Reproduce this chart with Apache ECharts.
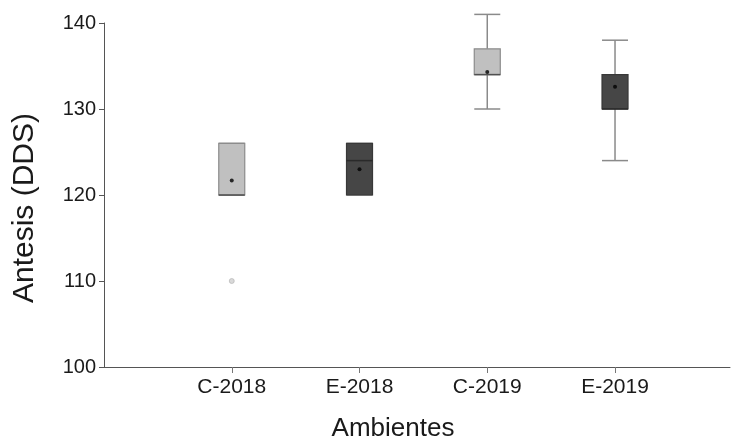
<!DOCTYPE html>
<html>
<head>
<meta charset="utf-8">
<script src="https://cdn.jsdelivr.net/npm/echarts@6/dist/echarts.min.js"></script>
<style>html,body{margin:0;padding:0;background:#fff}#main{width:731px;height:441px}</style>
</head>
<body>
<div id="main"></div>
<script>
const categories = ['C-2018', 'E-2018', 'C-2019', 'E-2019'];
const positions = [1, 2, 3, 4];
const mins = [120, 120, 130, 124];
const q1s = [120, 120, 134, 130];
const medians = [120, 124, 134, 130];
const q3s = [126, 126, 137, 134];
const maxs = [126, 126, 141, 138];
const means = [121.7, 123.0, 134.3, 132.6];
const outliers = [[1, 110]];
const yTicks = [100, 110, 120, 130, 140];

const boxData = positions.map((p, i) => [p, mins[i], q1s[i], medians[i], q3s[i], maxs[i], i]);
const meanData = positions.map((p, i) => [p, means[i]]);

const chart = echarts.init(document.getElementById('main'));
const fills = ['#c0c0c0', '#464646'];
const borders = ['#8c8c8c', '#383838'];
const medCols = ['#505050', '#2a2a2a'];

chart.setOption({
  animation: false,
  grid: { left: 104, right: 1, top: 23, bottom: 74, outerBoundsMode: 'none', containLabel: false },
  xAxis: {
    type: 'value', min: 0, max: 4.9,
    name: 'Ambientes', nameLocation: 'middle', nameGap: 49,
    nameTextStyle: { fontFamily: 'Liberation Sans', fontSize: 26, color: '#1a1a1a', padding: [0, 48, 0, 0] },
    splitLine: { show: false },
    axisLine: { show: true, lineStyle: { color: '#555', width: 1 } },
    axisTick: { show: true, customValues: positions, length: 6, lineStyle: { color: '#777' } },
    axisLabel: {
      customValues: positions, margin: 10,
      fontFamily: 'Liberation Sans', fontSize: 21, color: '#1a1a1a',
      formatter: v => categories[Math.round(v) - 1] || ''
    }
  },
  yAxis: {
    type: 'value', min: 100, max: 140, interval: 10,
    name: 'Antesis (DDS)', nameLocation: 'middle', nameGap: 64,
    nameTextStyle: { fontFamily: 'Liberation Sans', fontSize: 30, color: '#1a1a1a', padding: [0, 26, 0, 0] },
    splitLine: { show: false },
    axisLine: { show: true, lineStyle: { color: '#555', width: 1 } },
    axisTick: { show: true, length: 5, lineStyle: { color: '#555' } },
    axisLabel: {
      customValues: yTicks, margin: 8,
      fontFamily: 'Liberation Sans', fontSize: 20, color: '#1a1a1a'
    }
  },
  series: [
    {
      type: 'custom',
      data: boxData,
      renderItem: function (params, api) {
        const x = api.value(0);
        const idx = api.value(6);
        const w = 26;
        const pMin = api.coord([x, api.value(1)]);
        const pQ1 = api.coord([x, api.value(2)]);
        const pMed = api.coord([x, api.value(3)]);
        const pQ3 = api.coord([x, api.value(4)]);
        const pMax = api.coord([x, api.value(5)]);
        const cx = pMin[0];
        const k = idx % 2;
        const wl = { stroke: '#8a8a8a', lineWidth: 1.5 };
        return {
          type: 'group',
          children: [
            { type: 'line', shape: { x1: cx, y1: pMin[1], x2: cx, y2: pQ1[1] }, style: wl },
            { type: 'line', shape: { x1: cx, y1: pQ3[1], x2: cx, y2: pMax[1] }, style: wl },
            { type: 'line', shape: { x1: cx - w / 2, y1: pMin[1], x2: cx + w / 2, y2: pMin[1] }, style: wl },
            { type: 'line', shape: { x1: cx - w / 2, y1: pMax[1], x2: cx + w / 2, y2: pMax[1] }, style: wl },
            { type: 'rect', shape: { x: cx - w / 2, y: pQ3[1], width: w, height: pQ1[1] - pQ3[1] },
              style: { fill: fills[k], stroke: borders[k], lineWidth: 1.2 } },
            { type: 'line', shape: { x1: cx - w / 2, y1: pMed[1], x2: cx + w / 2, y2: pMed[1] },
              style: { stroke: medCols[k], lineWidth: 1.5 } }
          ]
        };
      },
      z: 2
    },
    {
      type: 'scatter', data: meanData, symbol: 'circle', symbolSize: 4,
      itemStyle: { color: '#000' }, z: 5
    },
    {
      type: 'scatter', data: outliers, symbol: 'circle', symbolSize: 5,
      itemStyle: { color: '#d0d0d0', borderColor: '#b0b0b0', borderWidth: 0.8 }, z: 5
    }
  ]
});
</script>
</body>
</html>
